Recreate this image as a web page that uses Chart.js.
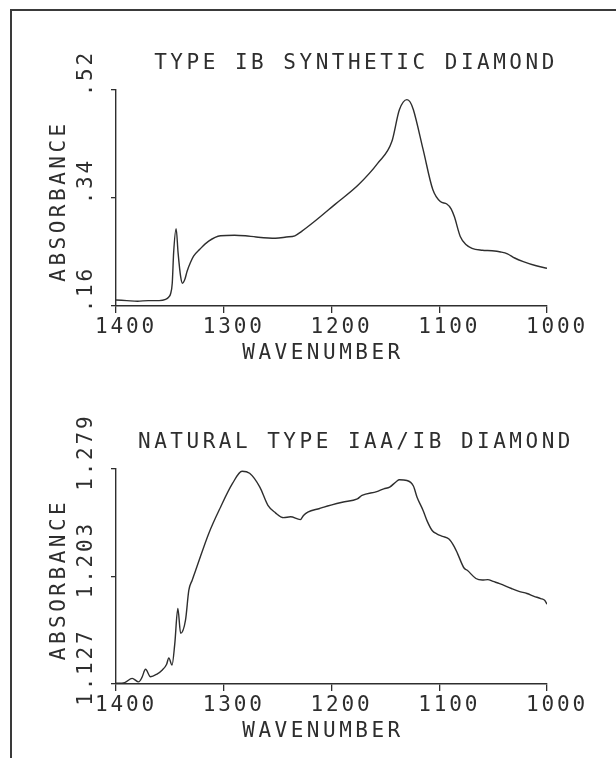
<!DOCTYPE html>
<html>
<head>
<meta charset="utf-8">
<script src="https://cdn.jsdelivr.net/npm/chart.js@4/dist/chart.umd.min.js"></script>
<style>
  html, body { margin: 0; padding: 0; background: #fff; }
  #page { position: relative; width: 616px; height: 758px; overflow: hidden; background: #fff; }
  #frame { position: absolute; left: 10px; top: 9px; width: 620px; height: 760px;
           border-top: 2px solid #3a3a3a; border-left: 2px solid #3a3a3a; box-sizing: border-box; }
  canvas { position: absolute; left: 0; }
  #c1 { top: 0; }
  #c2 { top: 379px; }
</style>
</head>
<body>
<div id="page">
  <div id="frame"></div>
  <canvas id="c1" width="616" height="379"></canvas>
  <canvas id="c2" width="616" height="379"></canvas>
</div>
<script>
// ---------- DATA ----------
const xTickValues = [1400, 1300, 1200, 1100, 1000];
const xTickLabels = ["1400", "1300", "1200", "1100", "1000"];
const xAxisTitle = "WAVENUMBER";
const yAxisTitle = "ABSORBANCE";

// Top panel: Type Ib synthetic diamond
const topTitle = "TYPE IB SYNTHETIC DIAMOND";
const topYTickValues = [0.16, 0.34, 0.52];
const topYTickLabels = [".16", ".34", ".52"];
const topWavenumber = [1400, 1390, 1380, 1370, 1360, 1354, 1351, 1349.4, 1347.8, 1346.5, 1344.2, 1342.4, 1340, 1338.3,
  1336, 1334, 1331, 1328, 1322, 1314, 1303, 1290, 1280, 1270, 1252, 1242, 1234, 1228, 1215, 1197, 1175, 1157,
  1144, 1137, 1130, 1127, 1124, 1115, 1106, 1099, 1093, 1089, 1086, 1080.5, 1075, 1069.6, 1060, 1051, 1043,
  1036.7, 1030, 1022, 1010, 1000];
const topAbsorbance = [0.170, 0.169, 0.168, 0.169, 0.169, 0.171, 0.175, 0.180, 0.198, 0.249, 0.289, 0.249, 0.209, 0.198,
  0.205, 0.218, 0.232, 0.243, 0.255, 0.268, 0.277, 0.278, 0.277, 0.275, 0.273, 0.275, 0.277, 0.284, 0.302, 0.329, 0.362, 0.398,
  0.434, 0.487, 0.504, 0.500, 0.487, 0.421, 0.354, 0.334, 0.330, 0.322, 0.309, 0.276, 0.262, 0.256, 0.253, 0.252, 0.250,
  0.247, 0.240, 0.234, 0.227, 0.223];

// Bottom panel: natural type IaA/Ib diamond
const bottomTitle = "NATURAL TYPE IAA/IB DIAMOND";
const bottomYTickValues = [1.127, 1.203, 1.279];
const bottomYTickLabels = ["1.127", "1.203", "1.279"];
const bottomWavenumber = [1400, 1392, 1385, 1379, 1376, 1372.6, 1368, 1362, 1357, 1353, 1351, 1348, 1345.5, 1342.6,
  1340, 1335.5, 1332.4, 1329.3, 1325, 1314, 1303, 1292, 1283, 1276, 1266.5, 1259, 1252, 1244.5, 1238, 1229, 1226,
  1222, 1211, 1207, 1190, 1176, 1171.7, 1158, 1151.5, 1146, 1140, 1137, 1130, 1124, 1120.6, 1115, 1111.5, 1106.6,
  1102, 1097, 1091, 1086, 1083, 1077, 1074, 1066, 1060, 1055, 1050, 1044, 1033, 1026, 1018.6, 1012, 1005.8, 1002, 1000];
const bottomAbsorbance = [1.1275, 1.128, 1.131, 1.1285, 1.1315, 1.1374, 1.1321, 1.1340, 1.1369, 1.1410, 1.1455, 1.1404, 1.1550, 1.1804,
  1.1628, 1.1721, 1.1933, 1.2004, 1.2097, 1.2333, 1.252, 1.2686, 1.2774, 1.2760, 1.2662, 1.2533, 1.2480, 1.2446, 1.2452, 1.2432, 1.2462,
  1.2485, 1.2511, 1.2521, 1.2555, 1.2579, 1.2603, 1.2630, 1.2650, 1.2662, 1.2700, 1.2714, 1.2709, 1.2670, 1.2591, 1.2497, 1.2427, 1.2355,
  1.2330, 1.2314, 1.2295, 1.2240, 1.2192, 1.2090, 1.2074, 1.2016, 1.2005, 1.2008, 1.1995, 1.198, 1.1945, 1.1925, 1.191, 1.1890, 1.1874, 1.1860, 1.1834];

// ---------- STYLE ----------
const INK = "#2e2e2e";
const FONT_SIZE = 21;
const FONT = FONT_SIZE + 'px "DejaVu Sans Mono", monospace';
const CAP = FONT_SIZE * 0.729;

const plotText = {
  id: 'plotText',
  afterDraw(chart, args, o) {
    const { ctx, chartArea, scales } = chart;
    const xs = scales.x, ys = scales.y;
    ctx.save();
    ctx.fillStyle = INK;
    ctx.font = FONT;

    // title
    ctx.letterSpacing = '3.5px';
    ctx.textAlign = 'center';
    ctx.textBaseline = 'alphabetic';
    ctx.fillText(o.title, chartArea.left + 240, chartArea.top - 29 + CAP / 2);

    // x tick labels
    ctx.letterSpacing = '2.8px';
    o.xTicks.forEach((v, i) => {
      const px = xs.getPixelForValue(v);
      ctx.fillText(o.xLabels[i], px + 10, chartArea.bottom + 19 + CAP / 2);
    });

    // x axis title
    ctx.letterSpacing = '3.5px';
    ctx.fillText(o.xTitle, chartArea.left + 207, chartArea.bottom + 45 + CAP / 2);

    // y axis title (rotated)
    ctx.save();
    ctx.translate(57 + CAP / 2, (chartArea.top + chartArea.bottom) / 2 + 3);
    ctx.rotate(-Math.PI / 2);
    ctx.textAlign = 'center';
    ctx.fillText(o.yTitle, 0, 0);
    ctx.restore();

    // y tick labels (rotated, decimal point on tick)
    ctx.letterSpacing = '2.8px';
    o.yTicks.forEach((v, i) => {
      const py = ys.getPixelForValue(v);
      const lab = o.yLabels[i];
      const k = lab.indexOf('.');
      const pre = ctx.measureText(lab.slice(0, k)).width;
      const dotW = ctx.measureText('.').width - 2.8;
      ctx.save();
      ctx.translate(84 + CAP / 2, py);
      ctx.rotate(-Math.PI / 2);
      ctx.textAlign = 'left';
      ctx.fillText(lab, -(pre + dotW / 2), 0);
      ctx.restore();
    });
    ctx.restore();
  }
};

function makeChart(id, wn, ab, yMin, yMax, yTicks, yLabels, title, xAxisHeight) {
  const points = wn.map((x, i) => ({ x: x, y: ab[i] }));
  return new Chart(document.getElementById(id), {
    type: 'line',
    data: { datasets: [{
      data: points,
      borderColor: INK,
      borderWidth: 1.4,
      pointRadius: 0,
      fill: false,
      cubicInterpolationMode: 'monotone'
    }] },
    options: {
      responsive: false,
      animation: false,
      devicePixelRatio: 1,
      layout: { padding: { left: 0, top: 90, right: 69, bottom: 0 } },
      plugins: {
        legend: { display: false },
        tooltip: { enabled: false },
        title: { display: false },
        plotText: { title: title, xTicks: xTickValues, xLabels: xTickLabels, xTitle: xAxisTitle,
                    yTitle: yAxisTitle, yTicks: yTicks, yLabels: yLabels }
      },
      scales: {
        x: {
          type: 'linear', reverse: true, min: 1000, max: 1400,
          afterBuildTicks: s => { s.ticks = xTickValues.map(v => ({ value: v })); },
          afterFit: s => { s.height = xAxisHeight; },
          ticks: { display: false },
          grid: { display: true, drawOnChartArea: false, drawTicks: true, tickLength: 7, color: INK, lineWidth: 1.3 },
          border: { display: true, color: INK, width: 1.4 }
        },
        y: {
          type: 'linear', min: yMin, max: yMax,
          afterBuildTicks: s => { s.ticks = yTicks.map(v => ({ value: v })); },
          afterFit: s => { s.width = 116; },
          ticks: { display: false },
          grid: { display: true, drawOnChartArea: false, drawTicks: true, tickLength: 5, color: INK, lineWidth: 1.3 },
          border: { display: true, color: INK, width: 1.4 }
        }
      }
    },
    plugins: [plotText]
  });
}

makeChart('c1', topWavenumber, topAbsorbance, 0.16, 0.52, topYTickValues, topYTickLabels, topTitle, 73);
makeChart('c2', bottomWavenumber, bottomAbsorbance, 1.127, 1.279, bottomYTickValues, bottomYTickLabels, bottomTitle, 74);
</script>
</body>
</html>
